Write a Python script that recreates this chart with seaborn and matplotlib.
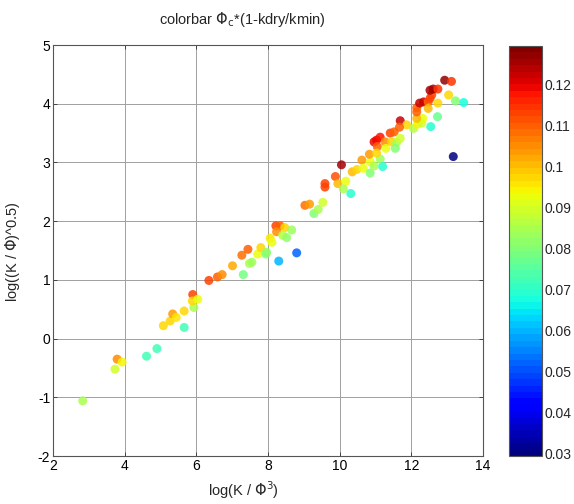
import numpy as np
import pandas as pd
import matplotlib
matplotlib.use("Agg")
import matplotlib.pyplot as plt
import matplotlib.colors as mcolors
import seaborn as sns

# points: log(K/phi^3), log((K/phi)^0.5), colour value
log_k_phi3 = [2.83, 3.73, 3.79, 3.93, 4.61, 4.90, 5.08, 5.27, 5.34, 5.44,
              5.66, 5.66, 5.93, 5.90, 5.89, 6.04, 6.35, 6.59, 6.72, 7.01,
              7.31, 7.27, 7.44, 7.48, 7.55, 7.71, 7.80, 7.94, 7.96, 8.06,
              8.11, 8.22, 8.34, 8.24, 8.47, 8.41, 8.52, 8.66, 8.30, 8.80,
              9.03, 9.16, 9.28, 9.40, 9.53, 9.59, 9.59, 9.88, 9.95, 10.17,
              10.10, 10.31, 10.05, 10.35, 10.48, 10.62, 10.66, 10.85, 10.83, 10.85,
              10.96, 11.13, 11.20, 10.96, 11.03, 11.13, 11.05, 11.27, 11.29, 11.03,
              11.41, 11.52, 11.45, 11.59, 11.69, 11.55, 11.69, 11.87, 11.67, 12.06,
              12.17, 12.29, 12.32, 12.15, 12.15, 12.15, 12.23, 12.34, 12.47, 12.47,
              12.52, 12.57, 12.52, 12.61, 12.74, 12.74, 12.93, 13.12, 13.04, 13.23,
              13.46, 12.73, 12.54, 13.17]
log_k_phi_half = [-1.06, -0.52, -0.35, -0.40, -0.30, -0.17, 0.22, 0.30, 0.42, 0.36,
                  0.47, 0.19, 0.53, 0.75, 0.64, 0.67, 0.99, 1.05, 1.09, 1.24,
                  1.09, 1.42, 1.52, 1.28, 1.30, 1.44, 1.55, 1.44, 1.47, 1.71,
                  1.64, 1.92, 1.92, 1.82, 1.89, 1.76, 1.72, 1.85, 1.32, 1.46,
                  2.27, 2.29, 2.13, 2.20, 2.32, 2.64, 2.58, 2.76, 2.64, 2.68,
                  2.55, 2.47, 2.96, 2.84, 2.88, 3.04, 2.90, 3.01, 3.14, 2.82,
                  2.94, 3.06, 2.93, 3.35, 3.38, 3.43, 3.27, 3.35, 3.24, 3.16,
                  3.50, 3.52, 3.35, 3.34, 3.41, 3.24, 3.71, 3.64, 3.60, 3.58,
                  3.65, 3.67, 3.75, 3.75, 3.86, 3.93, 4.01, 4.03, 4.03, 3.92,
                  4.09, 4.15, 4.23, 4.25, 4.25, 4.01, 4.40, 4.38, 4.15, 4.05,
                  4.02, 3.78, 3.61, 3.10]
phi_c_ratio = [0.085, 0.090, 0.105, 0.095, 0.072, 0.072, 0.097, 0.098, 0.103, 0.096,
               0.098, 0.072, 0.085, 0.113, 0.098, 0.093, 0.113, 0.110, 0.105, 0.102,
               0.078, 0.108, 0.110, 0.085, 0.083, 0.092, 0.097, 0.080, 0.082, 0.096,
               0.092, 0.113, 0.110, 0.105, 0.098, 0.087, 0.082, 0.083, 0.060, 0.052,
               0.108, 0.103, 0.080, 0.085, 0.090, 0.113, 0.113, 0.112, 0.100, 0.093,
               0.085, 0.070, 0.125, 0.100, 0.097, 0.103, 0.093, 0.092, 0.103, 0.080,
               0.085, 0.083, 0.070, 0.120, 0.120, 0.117, 0.110, 0.105, 0.093, 0.097,
               0.113, 0.110, 0.097, 0.085, 0.090, 0.080, 0.122, 0.098, 0.110, 0.087,
               0.095, 0.090, 0.092, 0.100, 0.110, 0.110, 0.122, 0.122, 0.110, 0.100,
               0.113, 0.113, 0.125, 0.125, 0.115, 0.097, 0.127, 0.115, 0.097, 0.080,
               0.068, 0.077, 0.070, 0.030]

cbar_ticks = [0.03, 0.04, 0.05, 0.06, 0.07, 0.08, 0.09, 0.1, 0.11, 0.12]

df = pd.DataFrame({"x": log_k_phi3, "y": log_k_phi_half, "c": phi_c_ratio})

sns.set_style("ticks")
plt.rcParams["font.family"] = ["Liberation Sans", "DejaVu Sans"]
plt.rcParams["mathtext.fontset"] = "dejavusans"

cmap = plt.get_cmap("jet", 64)
norm = mcolors.Normalize(vmin=0.0295, vmax=0.1295)

fig = plt.figure(figsize=(5.74, 5.04), dpi=100)
ax = fig.add_axes([0.0923, 0.0952, 0.7492, 0.8155])
cax = fig.add_axes([0.8868, 0.0952, 0.0575, 0.8135])

sns.scatterplot(data=df, x="x", y="y", hue="c", palette=cmap, hue_norm=norm,
                s=42, alpha=0.85, linewidth=0, legend=False, ax=ax, zorder=3)

ax.set_xlim(2, 14)
ax.set_ylim(-2, 5)
ax.set_xticks(range(2, 15, 2))
ax.set_yticks(range(-2, 6))
ax.set_xticklabels([str(v) for v in range(2, 15, 2)])
ax.set_yticklabels([str(v) for v in range(-2, 6)])
ax.grid(True, color="#a0a0a0", linewidth=0.7, zorder=0)
ax.tick_params(direction="in", length=3, width=0.6, top=True, right=True,
               labelsize=10, colors="#333333", labelcolor="black", pad=2)
for sp in ax.spines.values():
    sp.set_color("#555555")
    sp.set_linewidth(0.8)
ax.set_xlabel("")
ax.set_ylabel("")

sm = plt.cm.ScalarMappable(norm=norm, cmap=cmap)
cb = fig.colorbar(sm, cax=cax, ticks=cbar_ticks)
cb.ax.set_yticklabels(["%g" % t for t in cbar_ticks])
cb.ax.tick_params(direction="in", length=3, width=0.6, labelsize=10, pad=2)
cb.outline.set_edgecolor("#555555")
cb.outline.set_linewidth(0.8)

fig.text(0.4216, 0.962, r"colorbar $\Phi_\mathrm{c}$*(1-kdry/kmin)", ha="center", va="center", fontsize=10.5)
fig.text(0.4233, 0.028, r"log(K / $\Phi^3$)", ha="center", va="center", fontsize=10.5)
fig.text(0.022, 0.50, r"log((K / $\Phi$)^0.5)", ha="center", va="center", rotation=90, fontsize=10.5)

fig.savefig("out.png", dpi=100)
